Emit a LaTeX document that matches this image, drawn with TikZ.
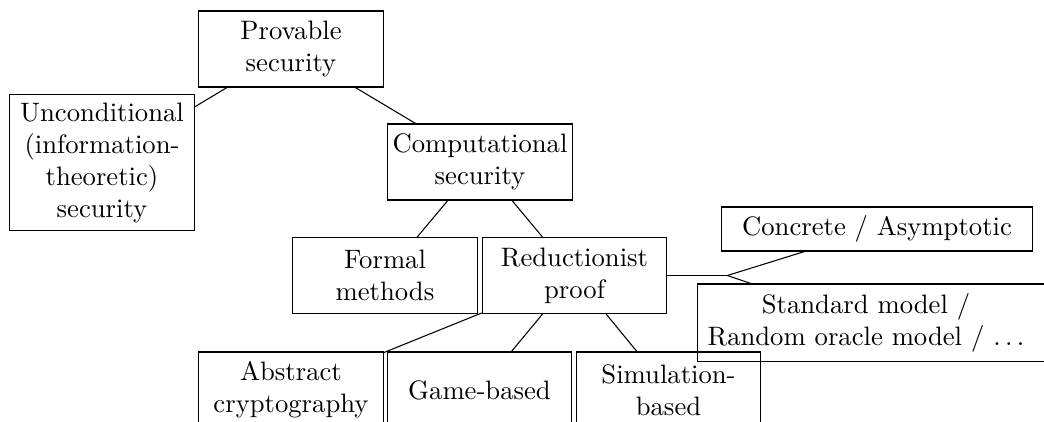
\documentclass[tikz,border=0pt]{standalone}
\usepackage{amsmath}
\usepackage{tikz}
\usetikzlibrary{calc}

\begin{document}
\begin{tikzpicture}[x=0.375pt, y=-0.375pt]

  \tikzset{box/.style = {shape=rectangle,draw,align=center,text width=65.6pt,
      inner xsep=1.8pt,inner ysep=3pt,minimum height=28.5pt}}
  \tikzset{link/.style = {thin}}
  \useasboundingbox (0,0) rectangle (1044,421);
  % boxes
  \node[box] (prov)   at (291,49)    {Provable\\security};
  \node[box] (uncond) at (102,162.5) {Unconditional\\(information-\\theoretic)\\security};
  \node[box] (comp)   at (480,162)   {Computational\\security};
  \node[box] (formal) at (385,275.5) {Formal\\methods};
  \node[box] (reduc)  at (574.5,275.5) {Reductionist\\proof};
  \node[box] (abstr)  at (291,390)   {Abstract\\cryptography};
  \node[box] (game)   at (479.5,390) {Game-based};
  \node[box] (simul)  at (668.5,390) {Simulation-\\based};
  \node[box, text width=113pt, minimum height=16.5pt] (conc) at (877,229) {Concrete / Asymptotic};
  \node[align=center, text width=122.3pt, inner xsep=1.9pt, inner ysep=3pt,
        minimum height=28.5pt] (std) at (866,322.5)
        {Standard model /\\Random oracle model / $\ldots$};
  \draw (std.north west) rectangle ([xshift=30pt]std.south east);
  \coordinate (j) at ($(reduc.east)+(60,0)$);
  %edges
  \draw[link] (prov) -- (uncond);
  \draw[link] (prov) -- (comp);
  \draw[link] (comp) -- (formal);
  \draw[link] (comp) -- (reduc);
  \draw[link] (reduc) -- (abstr);
  \draw[link] (reduc) -- (game);
  \draw[link] (reduc) -- (simul);
  \draw[link] (reduc.east) -- (j);
  \draw[link] (j) -- (conc);
  \draw[link] (j) -- ($(std.north west)+(55,0)$);
\end{tikzpicture}
\end{document}
